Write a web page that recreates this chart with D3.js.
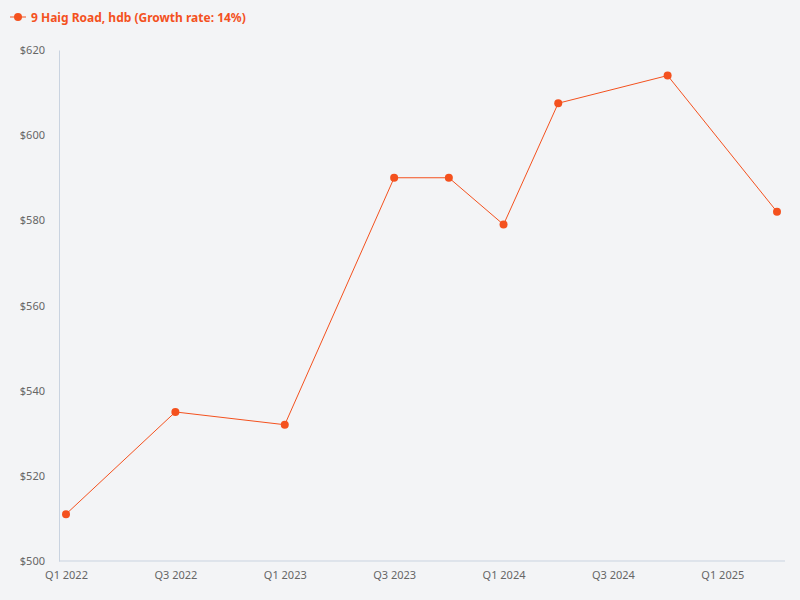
<!DOCTYPE html>
<html><head><meta charset="utf-8">
<script src="https://cdn.jsdelivr.net/npm/d3@7"></script>
<style>body{margin:0;background:#f3f4f6;font-family:"Noto Sans",sans-serif}</style>
</head><body><svg id="c" width="800" height="600"></svg>
<script>
const quarters = ["Q1 2022","Q2 2022","Q3 2022","Q4 2022","Q1 2023","Q2 2023","Q3 2023","Q4 2023","Q1 2024","Q2 2024","Q3 2024","Q4 2024","Q1 2025","Q2 2025"];
const pointQuarters = ["Q1 2022","Q3 2022","Q1 2023","Q3 2023","Q4 2023","Q1 2024","Q2 2024","Q4 2024","Q2 2025"];
const values = [511,535,532,590,590,579,607.5,614,582];
const tickLabels = ["Q1 2022","Q3 2022","Q1 2023","Q3 2023","Q1 2024","Q3 2024","Q1 2025"];
const yTicks = [500,520,540,560,580,600,620];
const seriesName = "9 Haig Road, hdb (Growth rate: 14%)";
const color = "#f4511e";

const svg = d3.select("#c");
const x = d3.scalePoint().domain(quarters).range([66,777]);
const y = d3.scaleLinear().domain([500,620]).range([561,50]);

const xa = svg.append("g").attr("transform","translate(0,561)")
  .call(d3.axisBottom(x).tickValues(tickLabels).tickSize(0).tickPadding(10));
xa.select(".domain").attr("d","M59,0H785").attr("stroke","#c9d3e0");
const ya = svg.append("g").attr("transform","translate(59,0)")
  .call(d3.axisLeft(y).tickValues(yTicks).tickFormat(d=>"$"+d).tickSize(0).tickPadding(14));
ya.select(".domain").attr("stroke","#c9d3e0");
svg.selectAll(".tick text").attr("fill","#666").attr("font-size",11).attr("font-family","Noto Sans");

const data = pointQuarters.map((q,i)=>({q,v:values[i]}));
svg.append("path").datum(data).attr("fill","none").attr("stroke",color).attr("stroke-width",1)
  .attr("d",d3.line().x(d=>x(d.q)).y(d=>y(d.v)));
svg.selectAll("circle.p").data(data).join("circle").attr("class","p")
  .attr("cx",d=>x(d.q)).attr("cy",d=>y(d.v)).attr("r",4).attr("fill",color);

const lg = svg.append("g");
lg.append("line").attr("x1",10).attr("x2",26).attr("y1",17).attr("y2",17).attr("stroke",color);
lg.append("circle").attr("cx",18).attr("cy",17).attr("r",4).attr("fill",color);
lg.append("text").attr("x",31).attr("y",21.5).text(seriesName).attr("fill",color)
  .attr("font-size",12).attr("font-weight","bold").attr("font-family","Noto Sans");
</script></body></html>
